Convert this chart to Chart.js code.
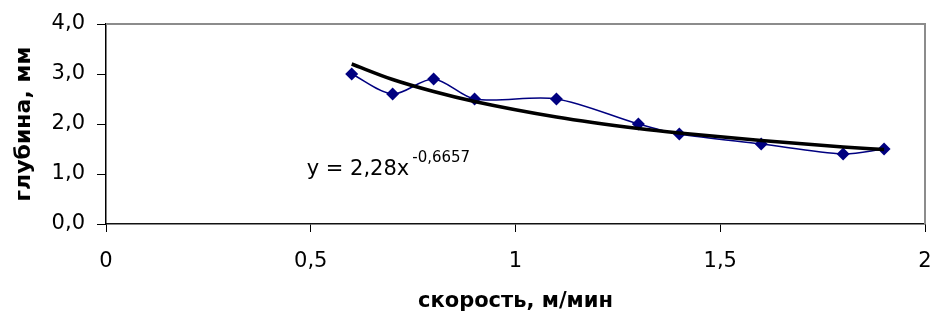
<!DOCTYPE html>
<html lang="ru">
<head>
<meta charset="utf-8">
<title>глубина / скорость</title>
<script src="https://cdn.jsdelivr.net/npm/chart.js@4/dist/chart.umd.min.js"></script>
<style>
  html, body { margin: 0; padding: 0; background: #fff; }
  #wrap { width: 935px; height: 322px; }
</style>
</head>
<body>
<div id="wrap"><canvas id="depthChart" width="935" height="322"></canvas></div>
<script>
// скорость, м/мин  и  глубина, мм
const speeds = [0.6, 0.7, 0.8, 0.9, 1.1, 1.3, 1.4, 1.6, 1.8, 1.9];
const depths = [3.0, 2.6, 2.9, 2.5, 2.5, 2.0, 1.8, 1.6, 1.4, 1.5];
// линия тренда (степенная), значения в тех же точках
const trendDepths = [3.2, 2.89, 2.65, 2.45, 2.14, 1.91, 1.82, 1.67, 1.54, 1.49];

const xTicks = [0, 0.5, 1, 1.5, 2];
const yTicks = [0, 1, 2, 3, 4];
const equationMain = 'y = 2,28x';
const equationPow = '-0,6657';

const FONT = '"DejaVu Sans", "Liberation Sans", Arial, sans-serif';

const toPoints = (xs, ys) => xs.map((x, i) => ({ x: x, y: ys[i] }));

// рамка области построения + уравнение тренда
const framePlugin = {
    id: 'frameAndEquation',
    beforeDatasetsDraw(chart) {
        const { ctx, chartArea } = chart;
        ctx.save();
        ctx.strokeStyle = '#8c8c8c';
        ctx.lineWidth = 2;
        ctx.beginPath();
        ctx.moveTo(chartArea.left, chartArea.top);
        ctx.lineTo(chartArea.right, chartArea.top);
        ctx.lineTo(chartArea.right, chartArea.bottom);
        ctx.stroke();
        ctx.restore();
    },
    afterDraw(chart) {
        const { ctx } = chart;
        const x = chart.scales.x.getPixelForValue(0.49);
        const yBase = chart.scales.y.getPixelForValue(0.98);
        ctx.save();
        ctx.fillStyle = '#000';
        ctx.textBaseline = 'alphabetic';
        ctx.textAlign = 'left';
        ctx.font = '21px ' + FONT;
        ctx.fillText(equationMain, x, yBase);
        const w = ctx.measureText(equationMain).width;
        ctx.font = '15px ' + FONT;
        ctx.fillText(equationPow, x + w + 3, yBase - 13);
        ctx.restore();
    }
};

const fmtY = v => v.toFixed(1).replace('.', ',');
const fmtX = v => String(v).replace('.', ',');

new Chart(document.getElementById('depthChart').getContext('2d'), {
    type: 'scatter',
    data: {
        datasets: [
            {
                label: 'Степенная (глубина)',
                data: toPoints(speeds, trendDepths),
                showLine: true,
                borderColor: '#000',
                borderWidth: 3.5,
                pointRadius: 0,
                cubicInterpolationMode: 'monotone',
                order: 0
            },
            {
                label: 'глубина',
                data: toPoints(speeds, depths),
                showLine: true,
                borderColor: '#000080',
                borderWidth: 1.5,
                backgroundColor: '#000080',
                pointStyle: 'rectRot',
                pointRadius: 6.5,
                pointBorderWidth: 0,
                pointBackgroundColor: '#000080',
                tension: 0.3,
                order: 1
            }
        ]
    },
    options: {
        responsive: false,
        animation: false,
        layout: { padding: { top: 24, right: 10, left: 0, bottom: 0 } },
        plugins: {
            legend: { display: false },
            tooltip: { enabled: false }
        },
        scales: {
            x: {
                type: 'linear',
                min: 0,
                max: 2,
                afterBuildTicks: scale => { scale.ticks = xTicks.map(v => ({ value: v })); },
                afterFit: scale => {
                    scale.height = 98;
                    scale.paddingLeft = 0;
                    scale.paddingRight = 0;
                },
                ticks: {
                    callback: fmtX,
                    color: '#000',
                    font: { family: FONT, size: 21 },
                    padding: 17,
                    maxRotation: 0
                },
                grid: {
                    drawOnChartArea: false,
                    drawTicks: true,
                    tickLength: 8,
                    color: '#000',
                    tickWidth: 1
                },
                border: { color: '#111', width: 1.5 },
                title: {
                    display: true,
                    text: 'скорость, м/мин',
                    color: '#000',
                    font: { family: FONT, size: 21, weight: 'bold' },
                    padding: { top: 0, bottom: 8 }
                }
            },
            y: {
                type: 'linear',
                min: 0,
                max: 4,
                afterBuildTicks: scale => { scale.ticks = yTicks.map(v => ({ value: v })); },
                afterFit: scale => {
                    scale.width = 106;
                    scale.paddingTop = 0;
                    scale.paddingBottom = 0;
                },
                ticks: {
                    callback: fmtY,
                    color: '#000',
                    font: { family: FONT, size: 21 },
                    padding: 12
                },
                grid: {
                    drawOnChartArea: false,
                    drawTicks: true,
                    tickLength: 9,
                    color: '#000',
                    tickWidth: 1
                },
                border: { color: '#000', width: 1.5 },
                title: {
                    display: true,
                    text: 'глубина, мм',
                    color: '#000',
                    font: { family: FONT, size: 22, weight: 'bold' },
                    padding: { top: 11, bottom: 0 }
                }
            }
        }
    },
    plugins: [framePlugin]
});
</script>
</body>
</html>
